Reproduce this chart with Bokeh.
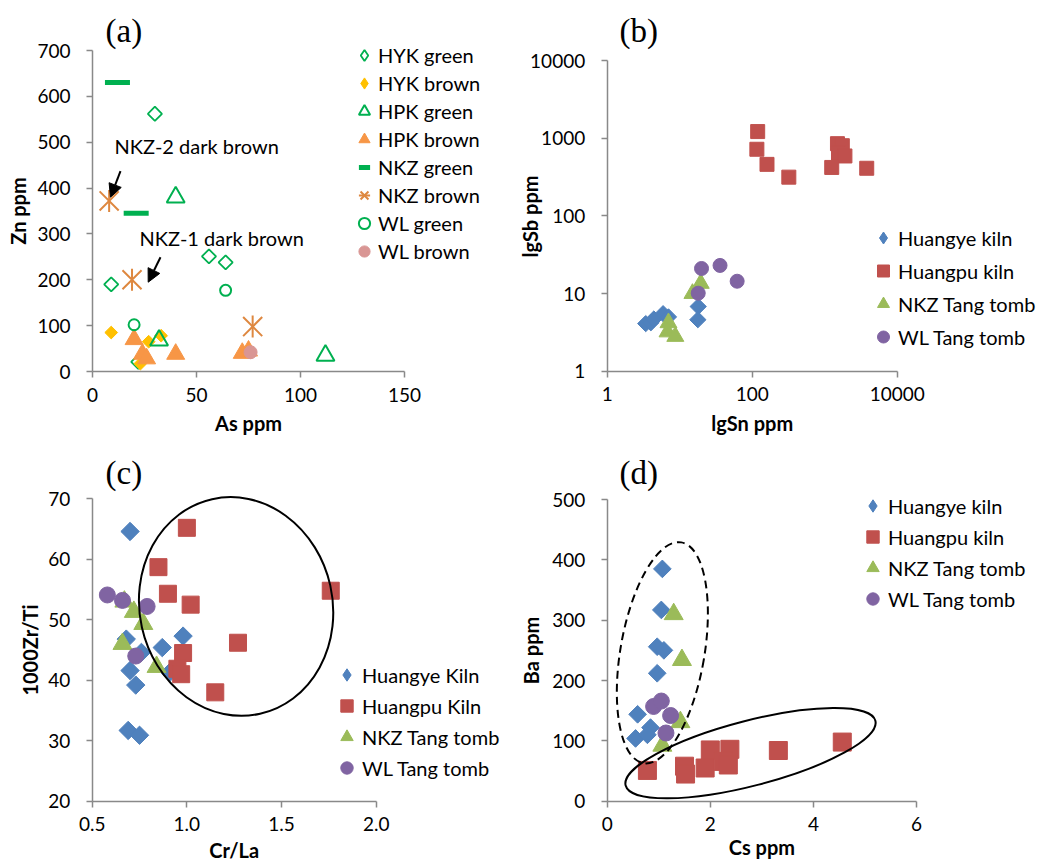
import math
import numpy as np
from bokeh.plotting import figure
from bokeh.models import (Range1d, FixedTicker, NumeralTickFormatter, Legend, LegendItem,
                          Label, Arrow, NormalHead)
from bokeh.layouts import column, row
from bokeh.embed import file_html
from bokeh.resources import INLINE

# ---------------- data: panel (a) As ppm vs Zn ppm ----------------
HYK_GREEN_AS = [30, 9, 56, 64, 22]
HYK_GREEN_ZN = [562, 190, 251, 238, 21]
HYK_BROWN_AS = [9, 27, 33, 23]
HYK_BROWN_ZN = [85, 65, 78, 17]
HPK_GREEN_AS = [40, 32, 112]
HPK_GREEN_ZN = [380, 68, 35]
HPK_BROWN_AS = [20, 24, 26, 40, 72, 75]
HPK_BROWN_ZN = [70, 38, 28, 38, 40, 45]
NKZ_GREEN_AS = [12, 21]
NKZ_GREEN_ZN = [630, 345]
NKZ_BROWN_AS = [8, 19, 77]
NKZ_BROWN_ZN = [372, 200, 98]
WL_GREEN_AS = [20, 64]
WL_GREEN_ZN = [102, 177]
WL_BROWN_AS = [76]
WL_BROWN_ZN = [42]

# ---------------- data: panel (b) Sn vs Sb (log) ----------------
B_HUANGYE_SN = [3.4, 4.0, 4.4, 5.9, 7.0, 18.0, 17.8]
B_HUANGYE_SB = [4.1, 4.2, 4.7, 5.5, 5.0, 6.8, 4.6]
B_HUANGPU_SN = [119, 116, 160, 320, 1500, 1750, 1550, 1900, 1250, 3800]
B_HUANGPU_SB = [1216, 720, 460, 315, 850, 800, 640, 590, 420, 410]
B_NKZ_SN = [15, 19.5, 7.0, 6.8, 8.7]
B_NKZ_SB = [10, 13.5, 4.2, 3.2, 2.8]
B_WL_SN = [20, 36, 62, 18]
B_WL_SB = [21, 23, 14.4, 10.1]

# ---------------- data: panel (c) Cr/La vs 1000Zr/Ti ----------------
C_HUANGYE_CRLA = [0.70, 0.68, 0.76, 0.87, 0.98, 0.70, 0.73, 0.69, 0.75, 0.91]
C_HUANGYE_ZRTI = [64.6, 46.8, 44.6, 45.4, 47.3, 41.6, 39.2, 31.7, 30.9, 41.3]
C_HUANGPU_CRLA = [1.00, 0.85, 0.90, 1.02, 1.76, 1.27, 0.98, 0.95, 0.97, 1.15]
C_HUANGPU_ZRTI = [65.2, 58.7, 54.3, 52.5, 54.8, 46.2, 44.5, 41.9, 41.0, 38.0]
C_NKZ_CRLA = [0.67, 0.72, 0.77, 0.66, 0.84]
C_NKZ_ZRTI = [53.0, 51.3, 49.3, 46.0, 42.2]
C_WL_CRLA = [0.58, 0.66, 0.79, 0.73]
C_WL_ZRTI = [54.1, 53.2, 52.2, 44.0]

# ---------------- data: panel (d) Cs vs Ba ----------------
D_HUANGYE_CS = [1.07, 1.05, 0.97, 1.10, 0.97, 0.59, 0.55, 0.84, 0.78]
D_HUANGYE_BA = [385, 317, 256, 250, 212, 144, 104, 122, 110]
D_HUANGPU_CS = [0.78, 1.50, 1.52, 1.90, 2.00, 2.38, 2.25, 2.35, 3.32, 4.56]
D_HUANGPU_BA = [51, 58, 45, 55, 85, 86, 66, 60, 84, 98]
D_NKZ_CS = [1.29, 1.45, 1.42, 1.07]
D_NKZ_BA = [310, 234, 131, 92]
D_WL_CS = [0.90, 1.05, 1.23, 1.14]
D_WL_BA = [157, 166, 142, 113]

# tick values
A_XTICKS = [0, 50, 100, 150]
A_YTICKS = [0, 100, 200, 300, 400, 500, 600, 700]
B_XTICKS = [1, 100, 10000]
B_YTICKS = [1, 10, 100, 1000, 10000]
C_XTICKS = [0.5, 1.0, 1.5, 2.0]
C_YTICKS = [20, 30, 40, 50, 60, 70]
D_XTICKS = [0, 2, 4, 6]
D_YTICKS = [0, 100, 200, 300, 400, 500]

# ellipse outlines (centre in data units)
C_ELLIPSE_CENTER = (1.26, 52.2)
D_DASHED_CENTER = (1.07, 246)
D_SOLID_CENTER = (2.78, 79.6)

FONT = "Lato"
SERIF = "Liberation Serif"
GRAY = "#898989"
GREEN = "#00B050"
YELLOW = "#FFC000"
ORANGE = "#F79646"
STAR = "#DE8840"
PINK = "#D99694"
BLUE = "#4F81BD"
RED = "#C0504D"
OLIVE = "#9BBB59"
PURPLE = "#8064A2"
PI4 = np.pi / 4

W = 519          # width of each panel canvas
H_TOP = 438      # height of the upper row
H_BOT = 422      # height of the lower row
BASE_FIX = 8     # baseline correction for alphabetic labels
MID_FIX = 3      # correction for middle-aligned labels


def span(v0, p0, v1, p1, size, log=False):
    """Range so that value v0 sits at pixel p0 and v1 at pixel p1 of a canvas of `size` px."""
    if log:
        v0, v1 = math.log10(v0), math.log10(v1)
    s = (p1 - p0) / (v1 - v0)
    a = v0 + (0 - p0) / s
    b = v0 + (size - p0) / s
    lo, hi = min(a, b), max(a, b)
    if log:
        lo, hi = 10 ** lo, 10 ** hi
    return Range1d(lo, hi)


def make_fig(h, xr, yr, xbounds, ybounds, xticks, yticks, log=False):
    kw = {}
    if log:
        kw = dict(x_axis_type="log", y_axis_type="log")
    p = figure(width=W, height=h, output_backend="svg", toolbar_location=None,
               min_border=0, min_border_left=0, min_border_right=0,
               min_border_top=0, min_border_bottom=0,
               x_range=xr, y_range=yr, **kw)
    p.outline_line_color = None
    p.grid.visible = False
    p.xaxis.ticker = FixedTicker(ticks=xticks)
    p.yaxis.ticker = FixedTicker(ticks=yticks)
    p.xaxis.bounds = xbounds
    p.yaxis.bounds = ybounds
    p.xaxis.fixed_location = ybounds[0]
    p.yaxis.fixed_location = xbounds[0]
    for ax in p.axis:
        ax.axis_line_color = GRAY
        ax.axis_line_width = 1.5
        ax.major_tick_line_color = GRAY
        ax.major_tick_line_width = 1.5
        ax.major_tick_out = 6
        ax.major_tick_in = 0
        ax.minor_tick_line_color = None
        ax.major_label_text_font = FONT
        ax.major_label_text_font_size = "19px"
        ax.major_label_text_color = "black"
    p.xaxis.major_label_standoff = 10
    p.yaxis.major_label_standoff = 16
    return p


def screen_label(p, text, x, y, angle=0.0, size="20px", style="bold", font=FONT,
                 align="center", baseline="alphabetic"):
    p.add_layout(Label(x=x, y=y, x_units="screen", y_units="screen", text=text,
                       angle=angle, text_font=font, text_font_size=size,
                       text_font_style=style, text_align=align,
                       text_baseline=baseline, text_color="black"))


def x_title(p, text, cx, baseline_px, h):
    screen_label(p, text, cx, h - baseline_px + BASE_FIX)


def y_title(p, text, baseline_px, cy, h):
    screen_label(p, text, baseline_px - BASE_FIX, h - cy, angle=np.pi / 2)


def panel_tag(p, text, left, cy, h):
    screen_label(p, text, left, h - cy + MID_FIX + 1, size="33px", style="normal",
                 font=SERIF, align="left", baseline="middle")


def add_legend(p, items, x, y, gw, gh, size="20px"):
    leg = Legend(items=items, location=(x, y), orientation="vertical",
                 glyph_width=gw, glyph_height=gh, label_standoff=0, spacing=0,
                 padding=0, margin=0, border_line_color=None,
                 background_fill_alpha=0, label_text_font=FONT,
                 label_text_font_size=size, label_text_color="black",
                 label_height=gh)
    p.add_layout(leg, "center")


# ================= panel (a) =================
pa = make_fig(H_TOP, span(0, 92, 150, 404, W), span(700, 50, 0, 371, H_TOP),
              (0, 150), (0, 700), A_XTICKS, A_YTICKS)
ra1 = pa.scatter(HYK_GREEN_AS, HYK_GREEN_ZN, marker="square", angle=PI4, size=10,
                 fill_color=None, line_color=GREEN, line_width=1.8)
la1 = pa.scatter(HYK_GREEN_AS, HYK_GREEN_ZN, marker="diamond", size=10,
                 fill_color=None, line_color=GREEN, line_width=1.8, visible=False)
ra2 = pa.scatter(HYK_BROWN_AS, HYK_BROWN_ZN, marker="square", angle=PI4, size=9,
                 fill_color=YELLOW, line_color=YELLOW)
la2 = pa.scatter(HYK_BROWN_AS, HYK_BROWN_ZN, marker="diamond", size=9,
                 fill_color=YELLOW, line_color=YELLOW, visible=False)
ra3 = pa.scatter(HPK_GREEN_AS, HPK_GREEN_ZN, marker="triangle", size=18,
                 fill_color=None, line_color=GREEN, line_width=2)
ra4 = pa.scatter(HPK_BROWN_AS, HPK_BROWN_ZN, marker="triangle", size=18,
                 fill_color=ORANGE, line_color=ORANGE)
ra5 = pa.scatter(NKZ_GREEN_AS, NKZ_GREEN_ZN, marker="dash", size=25,
                 line_color=GREEN, line_width=5, line_cap="butt")
ra6 = pa.scatter(NKZ_BROWN_AS, NKZ_BROWN_ZN, marker="x", size=27,
                 line_color=STAR, line_width=2)
ra6b = pa.scatter(NKZ_BROWN_AS, NKZ_BROWN_ZN, marker="dash", angle=np.pi / 2, size=22,
                  line_color=STAR, line_width=2)
ra7 = pa.scatter(WL_GREEN_AS, WL_GREEN_ZN, marker="circle", size=11,
                 fill_color=None, line_color=GREEN, line_width=2)
ra8 = pa.scatter(WL_BROWN_AS, WL_BROWN_ZN, marker="circle", size=13,
                 fill_color=PINK, line_color=PINK)
add_legend(pa, [LegendItem(label="HYK green", renderers=[la1]),
                LegendItem(label="HYK brown", renderers=[la2]),
                LegendItem(label="HPK green", renderers=[ra3]),
                LegendItem(label="HPK brown", renderers=[ra4]),
                LegendItem(label="NKZ green", renderers=[ra5]),
                LegendItem(label="NKZ brown", renderers=[ra6, ra6b]),
                LegendItem(label="WL green", renderers=[ra7]),
                LegendItem(label="WL brown", renderers=[ra8])],
           350, 173, 28, 28)
x_title(pa, "As ppm", 248, 430, H_TOP)
y_title(pa, "Zn ppm", 25, 210.5, H_TOP)
panel_tag(pa, "(a)", 105, 34, H_TOP)
screen_label(pa, "NKZ-2 dark brown", 114, H_TOP - 148 + MID_FIX, style="normal",
             align="left", baseline="middle")
screen_label(pa, "NKZ-1 dark brown", 139, H_TOP - 240 + MID_FIX, style="normal",
             align="left", baseline="middle")
for (xs, ys, xe, ye) in [(120, 170.7, 110, 196.7), (160, 256.7, 147.7, 281.7)]:
    pa.add_layout(Arrow(x_start=xs, y_start=H_TOP - ys, x_end=xe, y_end=H_TOP - ye,
                        start_units="screen", end_units="screen",
                        line_color="black", line_width=2,
                        end=NormalHead(size=13, fill_color="black",
                                       line_color="black")))

# ================= panel (b) =================
pb = make_fig(H_TOP, span(1, 87.7, 10000, 377.7, W, log=True),
              span(10000, 60, 1, 370.7, H_TOP, log=True),
              (1, 10000), (1, 10000), B_XTICKS, B_YTICKS, log=True)
pb.xaxis.formatter = NumeralTickFormatter(format="0")
pb.yaxis.formatter = NumeralTickFormatter(format="0")
rb1 = pb.scatter(B_HUANGYE_SN, B_HUANGYE_SB, marker="square", angle=PI4, size=11.5,
                 fill_color=BLUE, line_color=BLUE)
lb1 = pb.scatter(B_HUANGYE_SN, B_HUANGYE_SB, marker="diamond", size=11.5,
                 fill_color=BLUE, line_color=BLUE, visible=False)
rb2 = pb.scatter(B_HUANGPU_SN, B_HUANGPU_SB, marker="square", size=14,
                 fill_color=RED, line_color=RED)
rb3 = pb.scatter(B_NKZ_SN, B_NKZ_SB, marker="triangle", size=17,
                 fill_color=OLIVE, line_color=OLIVE)
rb4 = pb.scatter(B_WL_SN, B_WL_SB, marker="circle", size=14,
                 fill_color=PURPLE, line_color=PURPLE)
add_legend(pb, [LegendItem(label="Huangye kiln", renderers=[lb1]),
                LegendItem(label="Huangpu kiln", renderers=[rb2]),
                LegendItem(label="NKZ Tang tomb", renderers=[rb3]),
                LegendItem(label="WL Tang tomb", renderers=[rb4])],
           349, 85, 30, 33)
x_title(pb, "lgSn ppm", 232.7, 430, H_TOP)
y_title(pb, "lgSb ppm", 18, 216, H_TOP)
panel_tag(pb, "(b)", 100, 34, H_TOP)

# ================= panel (c) =================
pc = make_fig(H_BOT, span(0.5, 91.7, 2.0, 375.7, W), span(70, 60.3, 20, 362.7, H_BOT),
              (0.5, 2.0), (20, 70), C_XTICKS, C_YTICKS)
pc.xaxis.formatter = NumeralTickFormatter(format="0.0")
rc1 = pc.scatter(C_HUANGYE_CRLA, C_HUANGYE_ZRTI, marker="square", angle=PI4, size=13,
                 fill_color=BLUE, line_color=BLUE)
lc1 = pc.scatter(C_HUANGYE_CRLA, C_HUANGYE_ZRTI, marker="diamond", size=13,
                 fill_color=BLUE, line_color=BLUE, visible=False)
rc2 = pc.scatter(C_HUANGPU_CRLA, C_HUANGPU_ZRTI, marker="square", size=17,
                 fill_color=RED, line_color=RED)
rc3 = pc.scatter(C_NKZ_CRLA, C_NKZ_ZRTI, marker="triangle", size=19,
                 fill_color=OLIVE, line_color=OLIVE)
rc4 = pc.scatter(C_WL_CRLA, C_WL_ZRTI, marker="circle", size=16,
                 fill_color=PURPLE, line_color=PURPLE)
pc.ellipse(x=[C_ELLIPSE_CENTER[0]], y=[C_ELLIPSE_CENTER[1]], width=193, height=220,
           width_units="screen", height_units="screen", angle=0.22,
           fill_color=None, line_color="black", line_width=2)
add_legend(pc, [LegendItem(label="Huangye Kiln", renderers=[lc1]),
                LegendItem(label="Huangpu Kiln", renderers=[rc2]),
                LegendItem(label="NKZ Tang tomb", renderers=[rc3]),
                LegendItem(label="WL Tang tomb", renderers=[rc4])],
           331, 77, 31, 31)
x_title(pc, "Cr/La", 233.7, 857 - 438, H_BOT)
y_title(pc, "1000Zr/Ti", 37.5, 649.5 - 438, H_BOT)
panel_tag(pc, "(c)", 105, 476.7 - 438, H_BOT)

# ================= panel (d) =================
pd_ = make_fig(H_BOT, span(0, 87.7, 6, 397, W), span(500, 61, 0, 362.7, H_BOT),
               (0, 6), (0, 500), D_XTICKS, D_YTICKS)
rd1 = pd_.scatter(D_HUANGYE_CS, D_HUANGYE_BA, marker="square", angle=PI4, size=12.5,
                  fill_color=BLUE, line_color=BLUE)
ld1 = pd_.scatter(D_HUANGYE_CS, D_HUANGYE_BA, marker="diamond", size=12.5,
                  fill_color=BLUE, line_color=BLUE, visible=False)
rd2 = pd_.scatter(D_HUANGPU_CS, D_HUANGPU_BA, marker="square", size=18,
                  fill_color=RED, line_color=RED)
rd3 = pd_.scatter(D_NKZ_CS, D_NKZ_BA, marker="triangle", size=19,
                  fill_color=OLIVE, line_color=OLIVE)
rd4 = pd_.scatter(D_WL_CS, D_WL_BA, marker="circle", size=16,
                  fill_color=PURPLE, line_color=PURPLE)
pd_.ellipse(x=[D_DASHED_CENTER[0]], y=[D_DASHED_CENTER[1]], width=84, height=224,
            width_units="screen", height_units="screen", angle=-0.17,
            fill_color=None, line_color="black", line_width=2, line_dash="8 5")
pd_.ellipse(x=[D_SOLID_CENTER[0]], y=[D_SOLID_CENTER[1]], width=258, height=65,
            width_units="screen", height_units="screen", angle=0.254,
            fill_color=None, line_color="black", line_width=2)
add_legend(pd_, [LegendItem(label="Huangye kiln", renderers=[ld1]),
                 LegendItem(label="Huangpu kiln", renderers=[rd2]),
                 LegendItem(label="NKZ Tang tomb", renderers=[rd3]),
                 LegendItem(label="WL Tang tomb", renderers=[rd4])],
           338, 246, 31, 31)
x_title(pd_, "Cs ppm", 242.4, 854 - 438, H_BOT)
y_title(pd_, "Ba ppm", 19, 650 - 438, H_BOT)
panel_tag(pd_, "(d)", 100, 476.7 - 438, H_BOT)

layout = column(row(pa, pb, spacing=0), row(pc, pd_, spacing=0), spacing=0)
open("out.html", "w").write(file_html(layout, INLINE))
